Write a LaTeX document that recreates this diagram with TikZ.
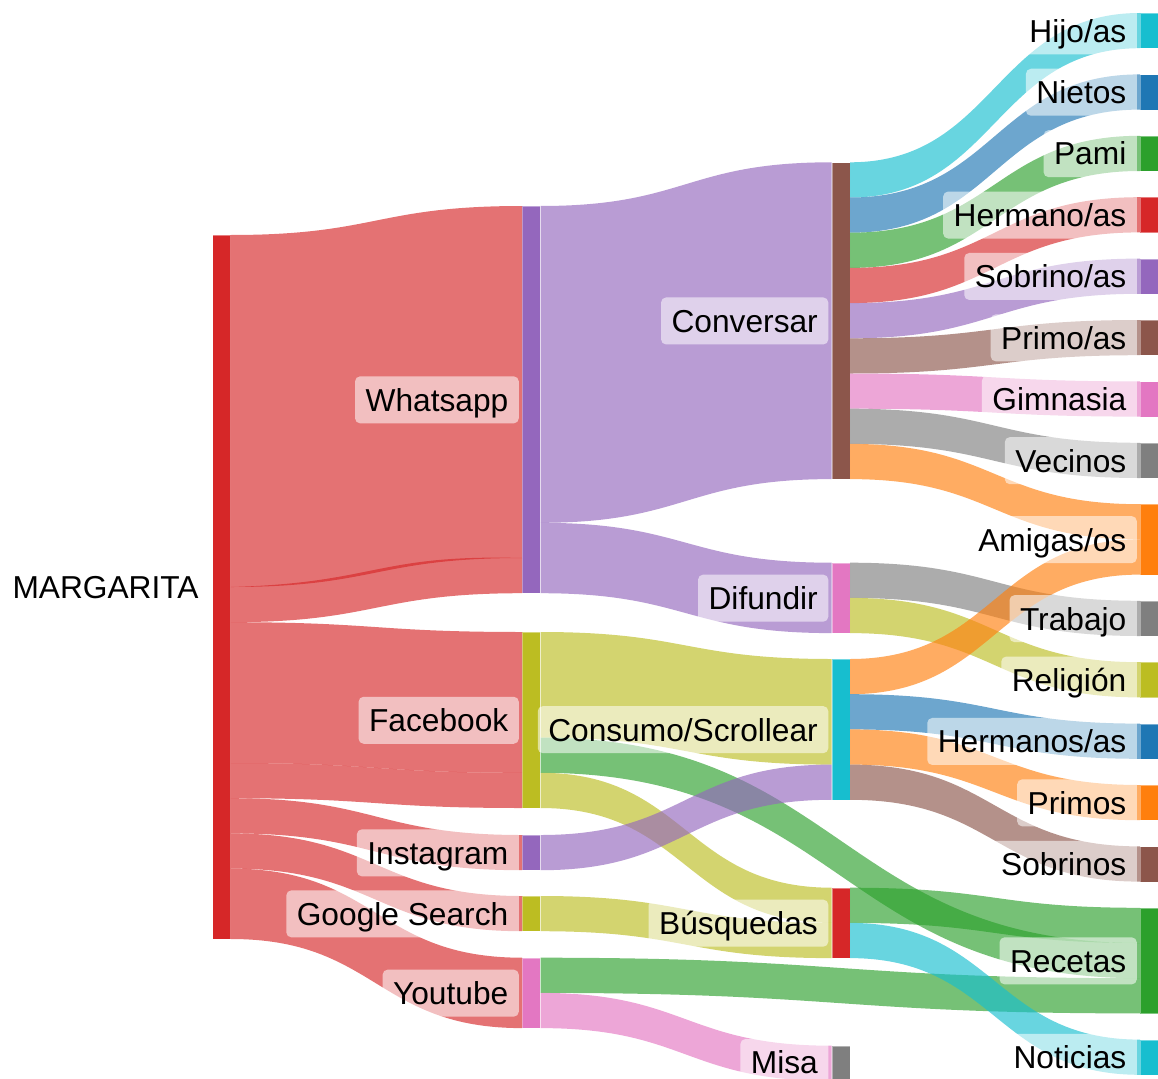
\documentclass[tikz,border=0pt]{standalone}
\usepackage{fontspec}
\setmainfont{Liberation Sans}
\usetikzlibrary{calc}
\definecolor{cBlue}{HTML}{1F77B4}
\definecolor{cOrange}{HTML}{FF7F0E}
\definecolor{cGreen}{HTML}{2CA02C}
\definecolor{cRed}{HTML}{D62728}
\definecolor{cPurple}{HTML}{9467BD}
\definecolor{cBrown}{HTML}{8C564B}
\definecolor{cPink}{HTML}{E377C2}
\definecolor{cGrey}{HTML}{7F7F7F}
\definecolor{cOlive}{HTML}{BCBD22}
\definecolor{cCyan}{HTML}{17BECF}
\def\uu{35.2pt}
% link: src, src offset, tgt, tgt offset, width, colour
\newcommand\lnk[6]{%
  \fill[flowband, fill=#6] let \p1=(#1.north east), \p2=(#3.north west), \p3=($(\p1)!0.5!(\p2)$) in
    (\x1,{\y1-(#2)*\uu}) .. controls (\x3,{\y1-(#2)*\uu}) and (\x3,{\y2-(#4)*\uu}) .. (\x2,{\y2-(#4)*\uu})
    -- (\x2,{\y2-(#4+#5)*\uu}) .. controls (\x3,{\y2-(#4+#5)*\uu}) and (\x3,{\y1-(#2+#5)*\uu}) .. (\x1,{\y1-(#2+#5)*\uu}) -- cycle;}
% same, with the upper edge bulging upwards by #7
\newcommand\lnkb[7]{%
  \fill[flowband, fill=#6] let \p1=(#1.north east), \p2=(#3.north west), \p3=($(\p1)!0.5!(\p2)$) in
    (\x1,{\y1-(#2)*\uu}) .. controls (\x3,{\y1-(#2)*\uu+#7}) and (\x3,{\y2-(#4)*\uu+#7}) .. (\x2,{\y2-(#4)*\uu})
    -- (\x2,{\y2-(#4+#5)*\uu}) .. controls (\x3,{\y2-(#4+#5)*\uu}) and (\x3,{\y1-(#2+#5)*\uu}) .. (\x1,{\y1-(#2+#5)*\uu}) -- cycle;}
\begin{document}
\begin{tikzpicture}[x=1pt,y=-1pt,
  bar/.style={rectangle, inner sep=0pt, minimum width=18pt, anchor=north west, draw=white, draw opacity=0.4, line width=0.5pt},
  flowband/.style={fill opacity=0.65},
  lab/.style={anchor=east, rounded corners=5pt, fill=white, fill opacity=0.55, text opacity=1,
    inner xsep=10.5pt, inner ysep=5.85pt, text height=29pt, text depth=6.3pt,
    font=\fontsize{31.7pt}{38pt}\selectfont}]
\useasboundingbox (0,0) rectangle (1158,1078);
\clip (0,0) rectangle (1158,1078);
% ---------- bars (nodes) ----------
\node[bar, fill=cRed, minimum height=20*\uu] (m) at (212.3,235) {};
\node[bar, fill=cPurple, minimum height=11*\uu] (wa) at (522,206) {};
\node[bar, fill=cOlive, minimum height=5*\uu] (fb) at (522,632) {};
\node[bar, fill=cPurple, minimum height=\uu] (ig) at (522,835) {};
\node[bar, fill=cOlive, minimum height=\uu] (gs) at (522,896) {};
\node[bar, fill=cPink, minimum height=2*\uu] (yt) at (522,957.7) {};
\node[bar, fill=cBrown, minimum height=9*\uu] (cv) at (831.5,162.3) {};
\node[bar, fill=cPink, minimum height=2*\uu] (df) at (831.5,562.7) {};
\node[bar, fill=cCyan, minimum height=4*\uu] (cs) at (831.5,659) {};
\node[bar, fill=cRed, minimum height=2*\uu] (bq) at (831.5,887.7) {};
\node[bar, fill=cGrey, minimum height=\uu] (ms) at (831.5,1045.7) {};
\node[bar, fill=cCyan, minimum height=\uu] (hi) at (1140,13) {};
\node[bar, fill=cBlue, minimum height=\uu] (ni) at (1140,74.4) {};
\node[bar, fill=cGreen, minimum height=\uu] (pa) at (1140,135.8) {};
\node[bar, fill=cRed, minimum height=\uu] (he) at (1140,197.2) {};
\node[bar, fill=cPurple, minimum height=\uu] (so) at (1140,258.6) {};
\node[bar, fill=cBrown, minimum height=\uu] (pr) at (1140,320) {};
\node[bar, fill=cPink, minimum height=\uu] (gi) at (1140,381.4) {};
\node[bar, fill=cGrey, minimum height=\uu] (ve) at (1140,442.8) {};
\node[bar, fill=cOrange, minimum height=2*\uu] (am) at (1140,504.2) {};
\node[bar, fill=cGrey, minimum height=\uu] (tr) at (1140,600.8) {};
\node[bar, fill=cOlive, minimum height=\uu] (re) at (1140,662.2) {};
\node[bar, fill=cBlue, minimum height=\uu] (hs) at (1140,723.6) {};
\node[bar, fill=cOrange, minimum height=\uu] (ps) at (1140,785) {};
\node[bar, fill=cBrown, minimum height=\uu] (ss) at (1140,846.4) {};
\node[bar, fill=cGreen, minimum height=3*\uu] (rc) at (1140,907.8) {};
\node[bar, fill=cCyan, minimum height=\uu] (no) at (1140,1039.6) {};
% ---------- links ----------
\lnk{m}{0}{wa}{0}{10}{cRed}
\lnkb{m}{10}{wa}{10}{1}{cRed}{4pt}
\lnk{m}{11}{fb}{0}{4}{cRed}
\lnk{m}{15}{fb}{4}{1}{cRed}
\lnk{m}{16}{ig}{0}{1}{cRed}
\lnk{m}{17}{gs}{0}{1}{cRed}
\lnk{m}{18}{yt}{0}{2}{cRed}
\lnk{wa}{0}{cv}{0}{9}{cPurple}
\lnk{wa}{9}{df}{0}{2}{cPurple}
\lnk{fb}{0}{cs}{0}{3}{cOlive}
\lnk{fb}{3}{rc}{1}{1}{cGreen}
\lnk{fb}{4}{bq}{0}{1}{cOlive}
\lnk{ig}{0}{cs}{3}{1}{cPurple}
\lnk{gs}{0}{bq}{1}{1}{cOlive}
\lnk{yt}{0}{rc}{2}{1}{cGreen}
\lnk{yt}{1}{ms}{0}{1}{cPink}
\lnk{cv}{0}{hi}{0}{1}{cCyan}
\lnk{cv}{1}{ni}{0}{1}{cBlue}
\lnk{cv}{2}{pa}{0}{1}{cGreen}
\lnk{cv}{3}{he}{0}{1}{cRed}
\lnk{cv}{4}{so}{0}{1}{cPurple}
\lnk{cv}{5}{pr}{0}{1}{cBrown}
\lnk{cv}{6}{gi}{0}{1}{cPink}
\lnk{cv}{7}{ve}{0}{1}{cGrey}
\lnk{cv}{8}{am}{0}{1}{cOrange}
\lnk{df}{0}{tr}{0}{1}{cGrey}
\lnk{df}{1}{re}{0}{1}{cOlive}
\lnk{cs}{0}{am}{1}{1}{cOrange}
\lnk{cs}{1}{hs}{0}{1}{cBlue}
\lnk{cs}{2}{ps}{0}{1}{cOrange}
\lnk{cs}{3}{ss}{0}{1}{cBrown}
\lnk{bq}{0}{rc}{0}{1}{cGreen}
\lnk{bq}{1}{no}{0}{1}{cCyan}
% ---------- labels ----------
\node[lab] (lm) at ([xshift=-3pt]m.west) {MARGARITA};
\node[lab] (lwa) at ([xshift=-3pt]wa.west) {Whatsapp};
\node[lab] (lfb) at ([xshift=-3pt]fb.west) {Facebook};
\node[lab] (lig) at ([xshift=-3pt]ig.west) {Instagram};
\node[lab] (lgs) at ([xshift=-3pt]gs.west) {Google Search};
\node[lab] (lyt) at ([xshift=-3pt]yt.west) {Youtube};
\node[lab] (lcv) at ([xshift=-3pt]cv.west) {Conversar};
\node[lab] (ldf) at ([xshift=-3pt]df.west) {Difundir};
\node[lab] (lcs) at ([xshift=-3pt]cs.west) {Consumo/Scrollear};
\node[lab] (lbq) at ([xshift=-3pt]bq.west) {Búsquedas};
\node[lab] (lms) at ([xshift=-3pt,yshift=1pt]ms.west) {Misa};
\node[lab] (lhi) at ([xshift=-3pt]hi.west) {Hijo/as};
\node[lab] (lni) at ([xshift=-3pt]ni.west) {Nietos};
\node[lab] (lpa) at ([xshift=-3pt]pa.west) {Pami};
\node[lab] (lhe) at ([xshift=-3pt]he.west) {Hermano/as};
\node[lab] (lso) at ([xshift=-3pt]so.west) {Sobrino/as};
\node[lab] (lpr) at ([xshift=-3pt]pr.west) {Primo/as};
\node[lab] (lgi) at ([xshift=-3pt]gi.west) {Gimnasia};
\node[lab] (lve) at ([xshift=-3pt]ve.west) {Vecinos};
\node[lab] (lam) at ([xshift=-3pt]am.west) {Amigas/os};
\node[lab] (ltr) at ([xshift=-3pt]tr.west) {Trabajo};
\node[lab] (lre) at ([xshift=-3pt]re.west) {Religión};
\node[lab] (lhs) at ([xshift=-3pt]hs.west) {Hermanos/as};
\node[lab] (lps) at ([xshift=-3pt]ps.west) {Primos};
\node[lab] (lss) at ([xshift=-3pt]ss.west) {Sobrinos};
\node[lab] (lrc) at ([xshift=-3pt]rc.west) {Recetas};
\node[lab] (lno) at ([xshift=-3pt]no.west) {Noticias};
\end{tikzpicture}
\end{document}
